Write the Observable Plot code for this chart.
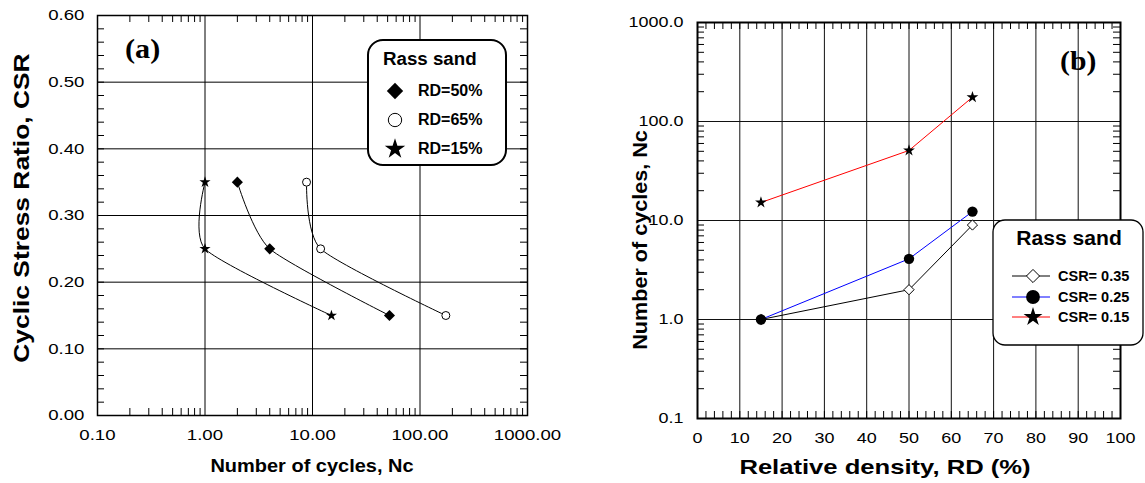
<!DOCTYPE html>
<html><head><meta charset="utf-8">
<script src="https://cdn.jsdelivr.net/npm/d3@7"></script>
<script src="https://cdn.jsdelivr.net/npm/@observablehq/plot@0.6"></script>
<style>
body{margin:0;background:#fff;}
#wrap{position:relative;width:1145px;height:483px;overflow:hidden;}
#wrap svg{position:absolute;top:0;overflow:visible;}
</style></head><body><div id="wrap"></div>
<script>
// ---------- Panel (a) data ----------
const seriesA = ["RD=50%", "RD=65%", "RD=15%"];
const csrA = [0.35, 0.25, 0.15];
const ncA50 = [2.0, 4.0, 52];
const ncA65 = [8.8, 11.9, 174];
const ncA15 = [1.0, 1.0, 15];
const xTicksA = [0.1, 1, 10, 100, 1000];
const yTicksA = [0, 0.1, 0.2, 0.3, 0.4, 0.5, 0.6];

// ---------- Panel (b) data ----------
const rdB = [15, 50, 65];
const seriesB = ["CSR= 0.35", "CSR= 0.25", "CSR= 0.15"];
const ncB035 = [1.0, 2.0, 9.0];
const ncB025 = [1.0, 4.1, 12.3];
const ncB015 = [15.2, 51, 176];
const xTicksB = [0, 10, 20, 30, 40, 50, 60, 70, 80, 90, 100];
const yTicksB = [0.1, 1, 10, 100, 1000];

const FONT = '"Liberation Sans", Arial, sans-serif';
const SERIF = '"Liberation Serif", "Times New Roman", serif';
const H = 483;
const wrap = document.getElementById("wrap");

function logMinors(decades) {
  const out = [];
  decades.forEach(d => { for (let k = 2; k <= 9; k++) out.push(d * k); });
  return out;
}
function txt(g, x, y, s, o = {}) {
  const t = g.append("text").attr("x", 0).attr("y", 0).text(s)
    .attr("font-family", o.family || FONT)
    .attr("font-size", o.size || 16)
    .attr("font-weight", o.weight || "bold")
    .attr("text-anchor", o.anchor || "start")
    .attr("dominant-baseline", "central")
    .attr("fill", "#000");
  const sx = o.sx || 1;
  t.attr("transform", `translate(${x},${y})` + (o.rotate ? " rotate(-90)" : "") + ` scale(${sx},1)`);
  return t;
}
// widen tick labels horizontally about their anchor (the reference's text is stretched)
function stretchTicks(svg, sx) {
  d3.select(svg).selectAll('g[aria-label$="tick label"] text').each(function () {
    const b = this.getBBox();
    const anchor = getComputedStyle(this).textAnchor;
    const ax = anchor === "end" ? b.x + b.width : anchor === "middle" ? b.x + b.width / 2 : b.x;
    const tr = this.getAttribute("transform") || "";
    this.setAttribute("transform", `${tr} translate(${ax},0) scale(${sx},1) translate(${-ax},0)`);
  });
}

// ================= Panel (a) =================
{
  const W = 560, mL = 97, mR = 33, mT = 15, mB = 68;
  const pw = W - mL - mR, ph = H - mT - mB;
  const rows = [];
  [[seriesA[0], ncA50], [seriesA[1], ncA65], [seriesA[2], ncA15]].forEach(([s, arr]) =>
    arr.forEach((v, i) => rows.push({ s, nc: v, csr: csrA[i] })));
  const minorX = logMinors([0.1, 1, 10, 100]);
  const minorY = d3.range(0, 0.6001, 0.02);
  const T = 7;
  const svg = Plot.plot({
    width: W, height: H, marginLeft: mL, marginRight: mR, marginTop: mT, marginBottom: mB,
    style: { fontFamily: FONT, fontSize: "15.5px", color: "#000", background: "transparent" },
    x: { type: "log", domain: [0.1, 1000] },
    y: { domain: [0, 0.6] },
    marks: [
      Plot.gridX(xTicksA, { stroke: "#000", strokeOpacity: 1, strokeWidth: 1 }),
      Plot.gridY(yTicksA, { stroke: "#000", strokeOpacity: 1, strokeWidth: 1 }),
      Plot.tickX(minorX, { insetTop: ph - T, stroke: "#000" }),
      Plot.tickX(minorX, { insetBottom: ph - T, stroke: "#000" }),
      Plot.tickY(minorY, { insetRight: pw - T, stroke: "#000" }),
      Plot.tickY(minorY, { insetLeft: pw - T, stroke: "#000" }),
      Plot.line(rows, { x: "nc", y: "csr", z: "s", curve: d3.curveCardinal.tension(0.35), stroke: "#000", strokeWidth: 1 }),
      Plot.dot(rows.filter(d => d.s === seriesA[0]), { x: "nc", y: "csr", symbol: "diamond2", r: 5, fill: "#000", stroke: "none" }),
      Plot.dot(rows.filter(d => d.s === seriesA[1]), { x: "nc", y: "csr", symbol: "circle", r: 4, fill: "#fff", stroke: "#000", strokeWidth: 1 }),
      Plot.dot(rows.filter(d => d.s === seriesA[2]), { x: "nc", y: "csr", symbol: "star", r: 3.5, fill: "#000", stroke: "none" }),
      Plot.frame({ stroke: "#000", strokeWidth: 1.5 }),
      Plot.axisX(xTicksA, { tickSize: 0, tickPadding: 13, tickFormat: d3.format(".2f"), label: null, fontSize: 15.5 }),
      Plot.axisY(yTicksA, { tickSize: 0, tickPadding: 13, tickFormat: d3.format(".2f"), label: null, fontSize: 15.5 })
    ]
  });
  svg.style.left = "0px";
  wrap.appendChild(svg);
  stretchTicks(svg, 1.2);
  const g = d3.select(svg).append("g");
  // axis titles
  txt(g, 312, 466, "Number of cycles, Nc", { size: 18.5, anchor: "middle", sx: 1.08 });
  txt(g, 21, 208, "Cyclic Stress Ratio, CSR", { size: 22, anchor: "middle", rotate: true, sx: 1.2 });
  // panel tag
  txt(g, 125, 49, "(a)", { size: 27, family: SERIF, sx: 1.12 });
  // legend
  g.append("rect").attr("x", 368).attr("y", 40).attr("width", 138).attr("height", 125)
    .attr("rx", 15).attr("fill", "#fff").attr("stroke", "#000").attr("stroke-width", 2);
  txt(g, 383, 59, "Rass sand", { size: 17.5, sx: 1.07 });
  const ys = [91, 120, 149];
  const syms = [d3.symbolDiamond2, d3.symbolCircle, d3.symbolStar];
  const sizes = [170, 140, 130];
  seriesA.forEach((s, i) => {
    g.append("path").attr("d", d3.symbol(syms[i], sizes[i])())
      .attr("transform", `translate(395,${ys[i]})`)
      .attr("fill", i === 1 ? "#fff" : "#000").attr("stroke", i === 1 ? "#000" : "none");
    txt(g, 418, ys[i] - 1, s, { size: 16 });
  });
}

// ================= Panel (b) =================
{
  const left = 580;
  const W = 565, mL = 117, mR = 25, mT = 22, mB = 65;
  const pw = W - mL - mR, ph = H - mT - mB;
  const rows = [];
  [[seriesB[0], ncB035], [seriesB[1], ncB025], [seriesB[2], ncB015]].forEach(([s, arr]) =>
    arr.forEach((v, i) => rows.push({ s, rd: rdB[i], nc: v })));
  const minorX = d3.range(0, 100.001, 2);
  const minorY = logMinors([0.1, 1, 10, 100]);
  const T = 7;
  const colors = ["#000", "#0000ff", "#ff0000"];
  const svg = Plot.plot({
    width: W, height: H, marginLeft: mL, marginRight: mR, marginTop: mT, marginBottom: mB,
    style: { fontFamily: FONT, fontSize: "14.5px", color: "#000", background: "transparent" },
    x: { domain: [0, 100] },
    y: { type: "log", domain: [0.1, 1000] },
    marks: [
      Plot.gridX(xTicksB, { stroke: "#111", strokeOpacity: 1, strokeWidth: 1 }),
      Plot.gridY(yTicksB, { stroke: "#111", strokeOpacity: 1, strokeWidth: 1 }),
      Plot.tickX(minorX, { insetTop: ph - T, stroke: "#000" }),
      Plot.tickX(minorX, { insetBottom: ph - T, stroke: "#000" }),
      Plot.tickY(minorY, { insetRight: pw - T, stroke: "#000" }),
      Plot.tickY(minorY, { insetLeft: pw - T, stroke: "#000" }),
      ...seriesB.map((s, i) => Plot.line(rows.filter(d => d.s === s), { x: "rd", y: "nc", stroke: colors[i], strokeWidth: 1 })),
      Plot.dot(rows.filter(d => d.s === seriesB[0]), { x: "rd", y: "nc", symbol: "diamond2", r: 4.6, fill: "#fff", stroke: "#000", strokeWidth: 1 }),
      Plot.dot(rows.filter(d => d.s === seriesB[1]), { x: "rd", y: "nc", symbol: "circle", r: 5.2, fill: "#000", stroke: "none" }),
      Plot.dot(rows.filter(d => d.s === seriesB[2]), { x: "rd", y: "nc", symbol: "star", r: 3.7, fill: "#000", stroke: "none" }),
      Plot.frame({ stroke: "#000", strokeWidth: 2 }),
      Plot.axisX(xTicksB, { tickSize: 0, tickPadding: 14, label: null, fontSize: 14.5 }),
      Plot.axisY(yTicksB, { tickSize: 0, tickPadding: 14, tickFormat: d3.format(".1f"), label: null, fontSize: 14.5 })
    ]
  });
  svg.style.left = left + "px";
  wrap.appendChild(svg);
  stretchTicks(svg, 1.24);
  const g = d3.select(svg).append("g");
  txt(g, 885 - left, 467, "Relative density, RD (%)", { size: 20.5, anchor: "middle", sx: 1.25 });
  txt(g, 640 - left, 240, "Number of cycles, Nc", { size: 20, anchor: "middle", rotate: true, sx: 1.08 });
  txt(g, 1060 - left, 61, "(b)", { size: 27, family: SERIF, sx: 1.1 });
  // legend
  g.append("rect").attr("x", 993 - left).attr("y", 220).attr("width", 150).attr("height", 125)
    .attr("rx", 12).attr("fill", "#fff").attr("stroke", "#000").attr("stroke-width", 1.3);
  txt(g, 1069 - left, 238, "Rass sand", { size: 20.5, anchor: "middle", sx: 1.03 });
  const ys = [276, 297, 317];
  const syms = [d3.symbolDiamond2, d3.symbolCircle, d3.symbolStar];
  const sizes = [110, 150, 110];
  seriesB.forEach((s, i) => {
    g.append("line").attr("x1", 1012 - left).attr("x2", 1050 - left).attr("y1", ys[i]).attr("y2", ys[i])
      .attr("stroke", colors[i]).attr("stroke-width", 1);
    g.append("path").attr("d", d3.symbol(syms[i], sizes[i])())
      .attr("transform", `translate(${1033 - left},${ys[i]})`)
      .attr("fill", i === 0 ? "#fff" : "#000").attr("stroke", i === 0 ? "#000" : "none");
    txt(g, 1058 - left, ys[i], s, { size: 14.5 });
  });
}
</script></body></html>
